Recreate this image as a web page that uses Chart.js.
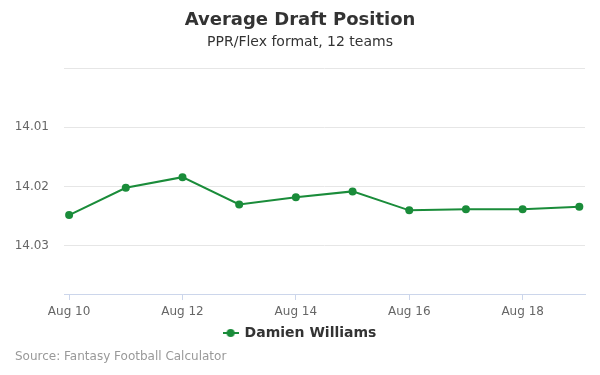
<!DOCTYPE html>
<html>
<head>
<meta charset="utf-8">
<script src="https://cdn.jsdelivr.net/npm/chart.js@4"></script>
<style>
  html, body { margin: 0; padding: 0; background: #fff; }
  #wrap { position: relative; width: 600px; height: 375px; }
  #source { position: absolute; left: 15px; top: 349px; font: 12px 'DejaVu Sans', sans-serif; color: #999; }
</style>
</head>
<body>
<div id="wrap">
  <canvas id="c" width="600" height="375"></canvas>
  <div id="source">Source: Fantasy Football Calculator</div>
</div>
<script>
const days = [10, 11, 12, 13, 14, 15, 16, 17, 18, 19];
const adp = [14.0174, 14.0151, 14.0142, 14.0165, 14.0159, 14.0154, 14.0170, 14.0169, 14.0169, 14.0167];
const xTickDays = [10, 12, 14, 16, 18];
const yTickValues = [14.005, 14.010, 14.015, 14.020];
const yTickLabels = ["", "14.01", "14.02", "14.03"];
const seriesName = "Damien Williams";
const monthName = "Aug";

const green = '#1a8c3a';
Chart.defaults.font.family = "'DejaVu Sans', sans-serif";

// legend symbol: line with dot
const sym = document.createElement('canvas');
sym.width = 16; sym.height = 10;
(function () {
  const g = sym.getContext('2d');
  g.strokeStyle = green; g.lineWidth = 2;
  g.beginPath(); g.moveTo(0, 5); g.lineTo(16, 5); g.stroke();
  g.fillStyle = green; g.beginPath(); g.arc(8, 5, 4, 0, Math.PI * 2); g.fill();
})();

new Chart(document.getElementById('c'), {
  type: 'line',
  data: {
    datasets: [{
      label: seriesName,
      data: days.map((d, i) => ({ x: d, y: adp[i] })),
      borderColor: green,
      backgroundColor: green,
      borderWidth: 2,
      pointRadius: 4,
      pointBorderWidth: 0,
      pointHoverRadius: 4,
      pointBackgroundColor: green,
      pointBorderColor: green,
      tension: 0
    }]
  },
  options: {
    responsive: false,
    animation: false,
    layout: { padding: { left: 15, right: 15, top: 0, bottom: 25 } },
    scales: {
      x: {
        type: 'linear',
        min: 9.91,
        max: 19.1,
        afterBuildTicks: (s) => { s.ticks = xTickDays.map(v => ({ value: v })); },
        afterFit: (s) => { s.height = 24; },
        ticks: {
          callback: (v) => monthName + ' ' + v,
          color: '#666', font: { size: 12 }, padding: 5, maxRotation: 0
        },
        grid: { display: true, drawOnChartArea: false, drawTicks: true, tickLength: 6, color: '#ccd6eb' },
        border: { display: true, color: '#ccd6eb' }
      },
      y: {
        type: 'linear',
        reverse: true,
        min: 14.005,
        max: 14.02405,
        afterBuildTicks: (s) => { s.ticks = yTickValues.map(v => ({ value: v })); },
        afterFit: (s) => { s.width = 49; },
        ticks: {
          callback: (v) => { const i = yTickValues.findIndex(t => Math.abs(t - v) < 1e-7); return i >= 0 ? yTickLabels[i] : ''; },
          color: '#666', font: { size: 12 }, padding: 15
        },
        grid: { color: '#e6e6e6', drawTicks: false },
        border: { display: false }
      }
    },
    plugins: {
      title: {
        display: true,
        text: 'Average Draft Position',
        color: '#333',
        font: { size: 18, weight: 'bold' },
        padding: { top: 10, bottom: 2 }
      },
      subtitle: {
        display: true,
        text: 'PPR/Flex format, 12 teams',
        color: '#333',
        font: { size: 14 },
        padding: { top: 0, bottom: 17.6 }
      },
      legend: {
        position: 'bottom',
        labels: {
          color: '#333',
          font: { size: 14, weight: 'bold' },
          usePointStyle: true,
          generateLabels: (chart) => Chart.defaults.plugins.legend.labels.generateLabels(chart).map(l => Object.assign(l, { pointStyle: sym })),
          padding: 8
        }
      },
      tooltip: { enabled: false }
    }
  }
});
</script>
</body>
</html>
